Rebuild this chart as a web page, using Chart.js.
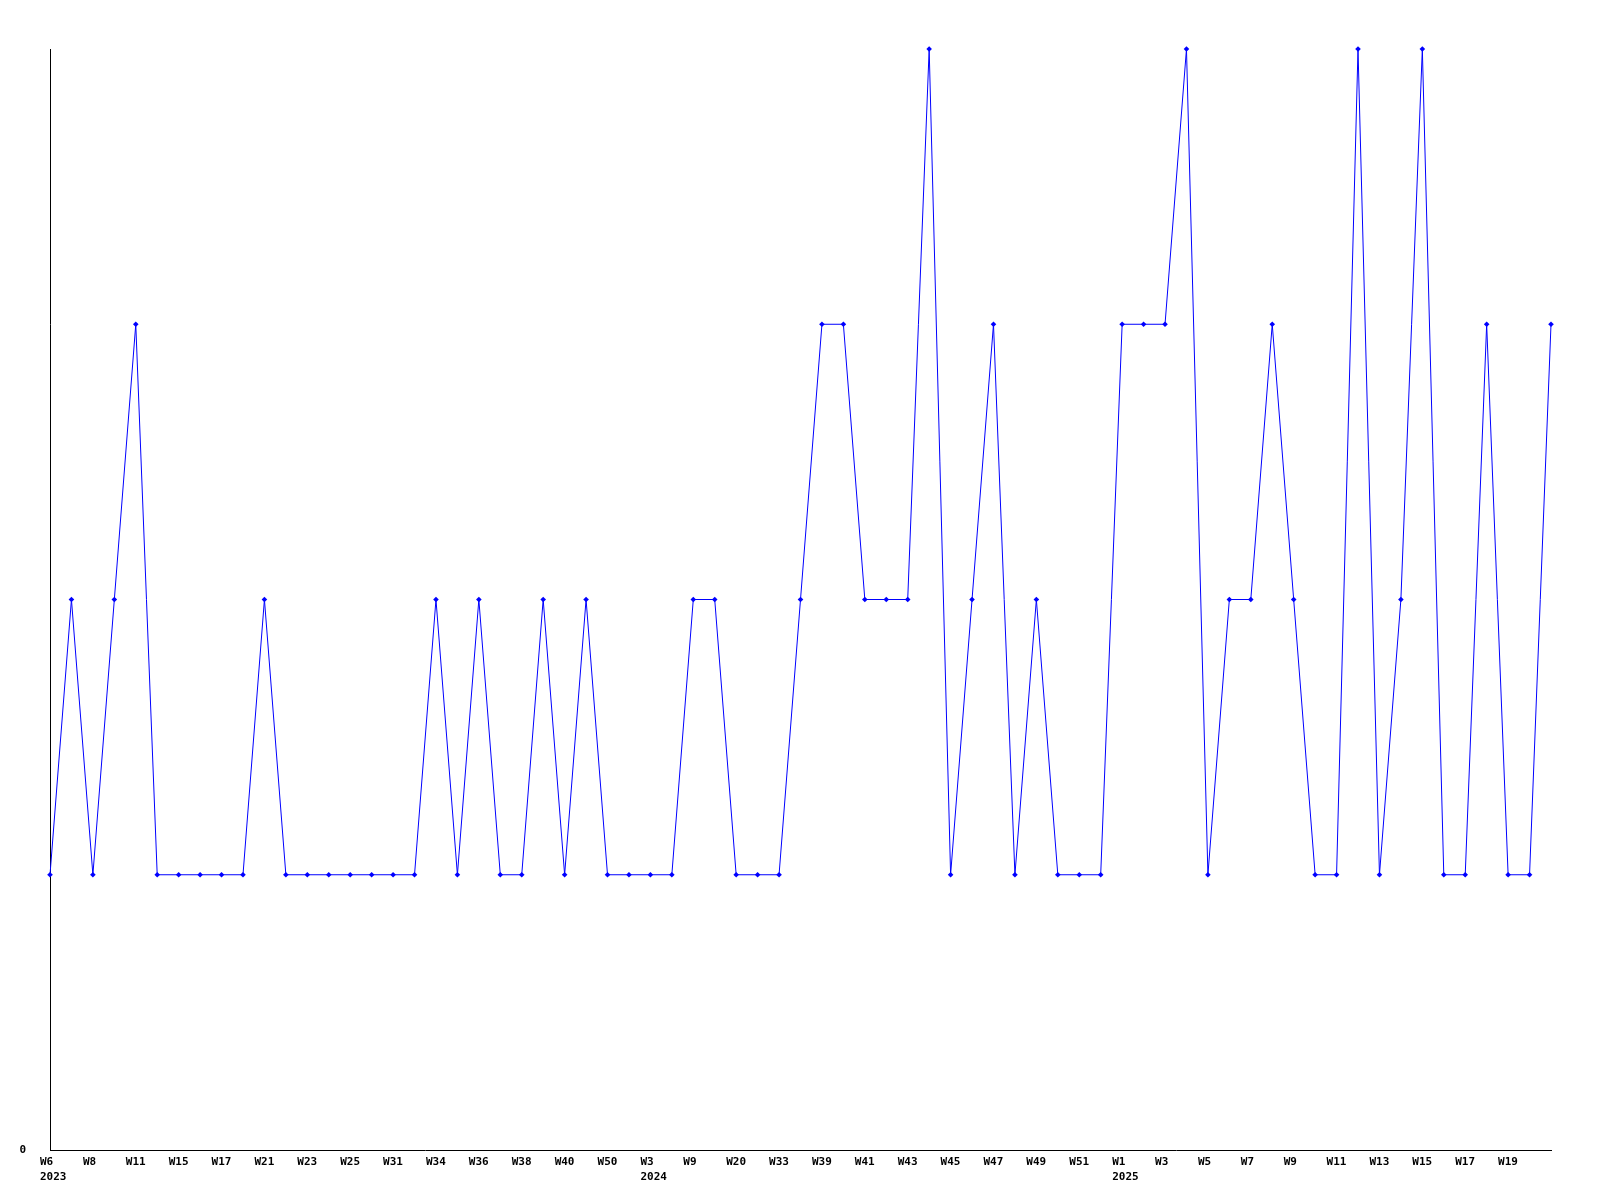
<!DOCTYPE html>
<html>
<head>
<meta charset="utf-8">
<script src="https://cdn.jsdelivr.net/npm/chart.js@4"></script>
<style>
html,body{margin:0;padding:0;background:#fff;}
#wrap{width:1600px;height:1200px;}
</style>
</head>
<body>
<div id="wrap"><canvas id="c" width="1600" height="1200"></canvas></div>
<script>
const categories = [
  ['W6','2023'],'W7','W8','W10','W11','W12','W15','W16','W17','W19','W21','W22','W23','W24','W25','W28','W31','W32','W34','W35','W36','W37','W38','W39','W40','W45','W50','W52',
  ['W3','2024'],'W6','W9','W15','W20','W27','W33','W36','W39','W40','W41','W42','W43','W44','W45','W46','W47','W48','W49','W50','W51','W52',
  ['W1','2025'],'W2','W3','W4','W5','W6','W7','W8','W9','W10','W11','W12','W13','W14','W15','W16','W17','W18','W19','W20','W21'
];
const values = [
  1,2,1,2,3,1,1,1,1,1,
  2,1,1,1,1,1,1,1,2,1,
  2,1,1,2,1,2,1,1,1,1,
  2,2,1,1,1,2,3,3,2,2,
  2,4,1,2,3,1,2,1,1,1,
  3,3,3,4,1,2,2,3,2,1,
  1,4,1,2,4,1,1,3,1,1,
  3
];
const yTickLabels = ['0'];

const font = {family: '"DejaVu Sans Mono", monospace', size: 11, weight: 'bold', lineHeight: 1.35};

new Chart(document.getElementById('c'), {
  type: 'line',
  data: {
    labels: categories,
    datasets: [{
      data: values,
      borderColor: '#0000ff',
      backgroundColor: '#0000ff',
      borderWidth: 1,
      tension: 0,
      pointStyle: 'rectRot',
      pointRadius: 2.8,
      pointBorderWidth: 0,
      fill: false,
      clip: false
    }]
  },
  options: {
    responsive: false,
    animation: false,
    devicePixelRatio: 1,
    layout: {padding: {top: 49, right: 49, left: 0, bottom: 0}},
    plugins: {legend: {display: false}, tooltip: {enabled: false}},
    scales: {
      x: {
        grid: {display: false},
        border: {display: true, color: '#000', width: 1},
        afterFit: s => { s.height = 50; },
        ticks: {
          autoSkip: false,
          maxRotation: 0,
          minRotation: 0,
          align: 'start',
          labelOffset: -10,
          padding: -3,
          color: '#000',
          font: font,
          callback: function(v, i) { return (i % 2 === 0 && i < categories.length - 1) ? this.getLabelForValue(v) : ''; }
        }
      },
      y: {
        min: 0,
        max: 4,
        grid: {display: false},
        border: {display: true, color: '#000', width: 1},
        afterFit: s => { s.width = 50; },
        ticks: {
          stepSize: 1,
          padding: 16,
          color: '#000',
          font: font,
          callback: (v, i) => (i < yTickLabels.length ? yTickLabels[i] : '')
        }
      }
    }
  }
});
</script>
</body>
</html>
